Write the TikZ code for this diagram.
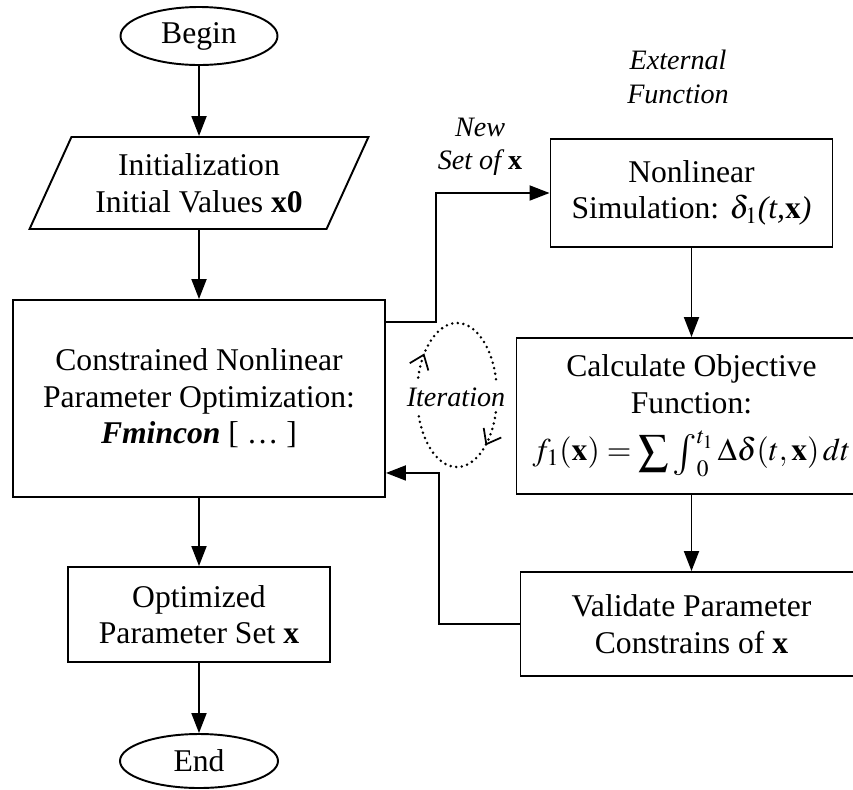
\documentclass[tikz,border=0pt]{standalone}
\usepackage{graphicx}
\usepackage{mathptmx}
\usepackage{fontspec}
\setmainfont{Liberation Serif}
\usetikzlibrary{arrows.meta, shapes.geometric, decorations.markings}

\newcommand{\bigsum}{\mathop{\raisebox{-0.12em}{\scalebox{1.35}{$\sum$}}}}
\newcommand{\bigint}{\mathop{\raisebox{-0.15em}{\scalebox{1.3}{$\int$}}}\nolimits}

\begin{document}
\begin{tikzpicture}[
  every node/.style={font=\fontsize{18}{20.8}\selectfont},
  block/.style={rectangle, draw, line width=1.1pt, align=center, inner sep=0pt},
  term/.style={ellipse, draw, line width=1.1pt, inner sep=0pt},
  io/.style={trapezium, trapezium left angle=60, trapezium right angle=120, trapezium stretches=true, draw, line width=1.1pt, align=center, inner sep=0pt},
  note/.style={font=\fontsize{16}{19}\selectfont\itshape, align=center},
  flow/.style={-{Triangle[length=0.4cm, width=0.3cm]}, line width=1.1pt},
  loopline/.style={line width=1.6pt, dash pattern=on 0pt off 3.2pt, line cap=round},
  looptip/.style={decoration={markings, mark=at position #1 with {\arrow{Straight Barb[length=0.26cm, width=0.4cm, line width=1pt]}}}, postaction={decorate}},
]

\useasboundingbox (0,0) rectangle (17.06,-15.78);
\clip (0,0) rectangle (17.06,-15.78);

% Main column
\node[term, minimum width=3.14cm, minimum height=1.16cm] (start) at (3.98,-0.72) {Begin};
\node[io, minimum width=6.78cm, minimum height=1.84cm] (init) at (3.98,-3.66) {Initialization\\Initial Values \textbf{x0}};
\node[block, minimum width=7.44cm, minimum height=3.94cm] (cons) at (3.98,-7.97) {Constrained Nonlinear\\Parameter Optimization:\\\textbf{\textit{Fmincon}} [ \ldots\ ]};
\node[block, minimum width=5.24cm, minimum height=1.9cm] (opt) at (3.98,-12.29) {Optimized\\Parameter Set \textbf{x}};
\node[term, minimum width=3.16cm, minimum height=1.08cm] (stop) at (3.98,-15.22) {End};

% External function column
\node[block, minimum width=5.64cm, minimum height=2.16cm] (nl) at (13.83,-3.86) {Nonlinear\\Simulation: $\delta_1$\textit{(t,}$\mathbf{x}$\textit{)}};
\node[block, minimum width=7.0cm, minimum height=3.12cm] (calc) at (13.83,-8.32) {Calculate Objective\\Function:\\[0.22cm]$f_1(\mathbf{x}) = \bigsum\bigint_0^{t_1}\Delta\delta(t,\mathbf{x})\,dt$};
\node[block, minimum width=6.84cm, minimum height=2.08cm] (val) at (13.83,-12.48) {Validate Parameter\\Constrains of \textbf{x}};

% Labels
\node[note] (ext) at (13.56,-1.54) {External\\Function};
\node[note] (newx) at (9.6,-2.93) {New\\Set of \textbf{\upshape x}};
\node[note] (iter) at (9.12,-7.94) {Iteration};

% Flow
\draw[flow] (start) -- (init);
\draw[flow] (init) -- (cons);
\draw[flow] (cons) -- (opt);
\draw[flow] (opt) -- (stop);
\draw[flow] (nl) -- (calc);
\draw[flow] (calc) -- (val);

% Loop
\draw[flow] ([yshift=-0.46cm]cons.north east) -- ++(1.0,0) |- (nl.west);
\draw[flow] (val.west) -- ++(-1.62,0) |- ([yshift=0.5cm]cons.south east);

% Iteration ring
\coordinate (ring) at (9.14,-7.9);
\draw[loopline, looptip=0.17] (ring) ++(166:0.8 and 1.44) arc[start angle=166, end angle=12, x radius=0.8, y radius=1.44];
\draw[loopline, looptip=0.24] (ring) ++(-14:0.8 and 1.44) arc[start angle=-14, end angle=-166, x radius=0.8, y radius=1.44];

\end{tikzpicture}
\end{document}
